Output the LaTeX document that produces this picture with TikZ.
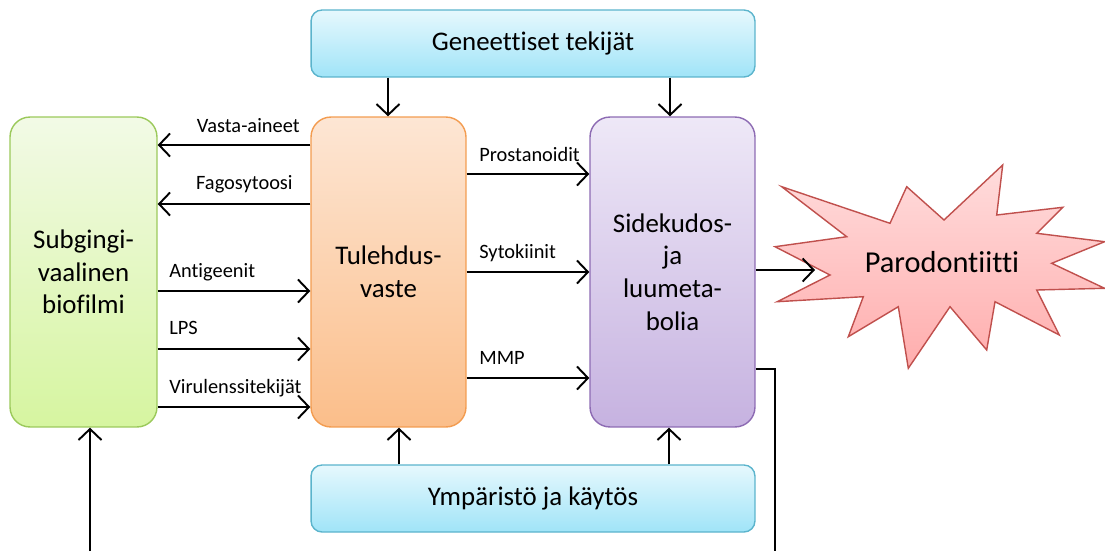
\documentclass[tikz,border=0pt]{standalone}
\usepackage{fontspec}
\setmainfont{Carlito}[Ligatures=NoCommon]
\usetikzlibrary{positioning}
\usetikzlibrary{calc}
\usetikzlibrary{arrows.meta}

\definecolor{genTop}{HTML}{E6F8FD}
\definecolor{genBot}{HTML}{A0E4F8}
\definecolor{genLine}{HTML}{5BB4CC}
\definecolor{subTop}{HTML}{F2FAE6}
\definecolor{subBot}{HTML}{D6F5A0}
\definecolor{subLine}{HTML}{9BC95B}
\definecolor{tulTop}{HTML}{FDE6D4}
\definecolor{tulBot}{HTML}{FBBE8A}
\definecolor{tulLine}{HTML}{F39C50}
\definecolor{sidTop}{HTML}{EEE8F7}
\definecolor{sidBot}{HTML}{C6B2E0}
\definecolor{sidLine}{HTML}{8D6BB3}
\definecolor{parTop}{HTML}{FFDCDC}
\definecolor{parBot}{HTML}{FFADAD}
\definecolor{parLine}{HTML}{C0504D}

\begin{document}
\begin{tikzpicture}[x=0.02cm,y=-0.02cm]
\tikzstyle{box} =[rectangle,rounded corners=0.4cm,line width=0.8pt,align=center,font=\fontsize{15.3}{18.6}\selectfont]
\tikzstyle{wide} =[box,rounded corners=0.22cm,minimum width=8.88cm,minimum height=1.34cm,draw=genLine,top color=genTop,bottom color=genBot]
\tikzstyle{lbl} =[inner sep=0pt,font=\fontsize{11.6}{14}\selectfont]
\tikzstyle{link} =[line width=1.1pt,-{Straight Barb[length=2.2mm,width=4.6mm,line width=1.1pt]}]
\useasboundingbox (0,0) rectangle (1105,551);

\node[wide](gen) at (533,43.5){Geneettiset tekijät};
\node[wide](ymp) at (533,498.5){Ympäristö ja käytös};

\node[box,minimum width=2.94cm,minimum height=6.2cm,draw=subLine,top color=subTop,bottom color=subBot](sub) at (83.5,272){Subgingi-\\vaalinen\\biofilmi};
\node[box,minimum width=3.1cm,minimum height=6.2cm,draw=tulLine,top color=tulTop,bottom color=tulBot](tul) at (388.5,272){Tulehdus-\\vaste};
\node[box,minimum width=3.3cm,minimum height=6.2cm,draw=sidLine,top color=sidTop,bottom color=sidBot](sid) at (672.5,272){Sidekudos-\\ja\\luumeta-\\bolia};

% tahti
\draw[line width=0.8pt,draw=parLine,top color=parTop,bottom color=parBot]
 (781.7,186.7)--(890,223.3)--(906.7,186.7)--(944,220)--(1002.7,165)--(996.7,215)
 --(1062.7,207.3)--(1036.7,233.3)--(1104.6,241.7)--(1051.7,263.3)--(1104.6,288.3)
 --(1036.7,290)--(1059.3,335)--(995,301.7)--(986.7,350)--(950,306.7)--(908.3,368.3)
 --(898.3,306.7)--(848.3,336.7)--(863.3,296.7)--(777.3,301.7)--(830,275)
 --(775,246.7)--(846.7,236.7)--cycle;
\node[font=\fontsize{17.3}{20}\selectfont](par) at (942,262){Parodontiitti};
\coordinate (parIn) at (815,270);

% ylhaalta ja alhaalta
\draw[link] (gen.south -| 388,0) -- (tul.north -| 388,0);
\draw[link] (gen.south -| 670,0) -- (sid.north -| 670,0);
\draw[link] (ymp.north -| 399,0) -- (tul.south -| 399,0);
\draw[link] (ymp.north -| 669,0) -- (sid.south -| 669,0);

% tulehdusvaste -> biofilmi
\node[lbl,anchor=base east](vasta) at (300,132){Vasta-aineet};
\draw[link] (tul.west |- 0,145) -- (sub.east |- 0,145);
\node[lbl,anchor=base east](fago) at (293,189){Fagosytoosi};
\draw[link] (tul.west |- 0,204) -- (sub.east |- 0,204);

% biofilmi -> tulehdusvaste
\node[lbl,anchor=base west](anti) at (169,277){Antigeenit};
\draw[link] (sub.east |- 0,291) -- (tul.west |- 0,291);
\node[lbl,anchor=base west](lps) at (169,334){LPS};
\draw[link] (sub.east |- 0,349) -- (tul.west |- 0,349);
\node[lbl,anchor=base west](viru) at (169,393){Virulenssitekijät};
\draw[link] (sub.east |- 0,407) -- (tul.west |- 0,407);

% tulehdusvaste -> sidekudos
\node[lbl,anchor=base west](pros) at (479,161){Prostanoidit};
\draw[link] (tul.east |- 0,174) -- (sid.west |- 0,174);
\node[lbl,anchor=base west](syto) at (479,258){Sytokiinit};
\draw[link] (tul.east |- 0,272) -- (sid.west |- 0,272);
\node[lbl,anchor=base west](mmp) at (479,364){MMP};
\draw[link] (tul.east |- 0,378) -- (sid.west |- 0,378);

\draw[link] (sid.east |- parIn) -- (parIn);

% takaisinkytkenta
\coordinate (loopR) at (775,551);
\coordinate (loopL) at (90,551);
\draw[line width=1.1pt] (sid.east |- 0,369) -| (loopR);
\draw[link] (loopL) -- (sub.south -| loopL);
\end{tikzpicture}
\end{document}
